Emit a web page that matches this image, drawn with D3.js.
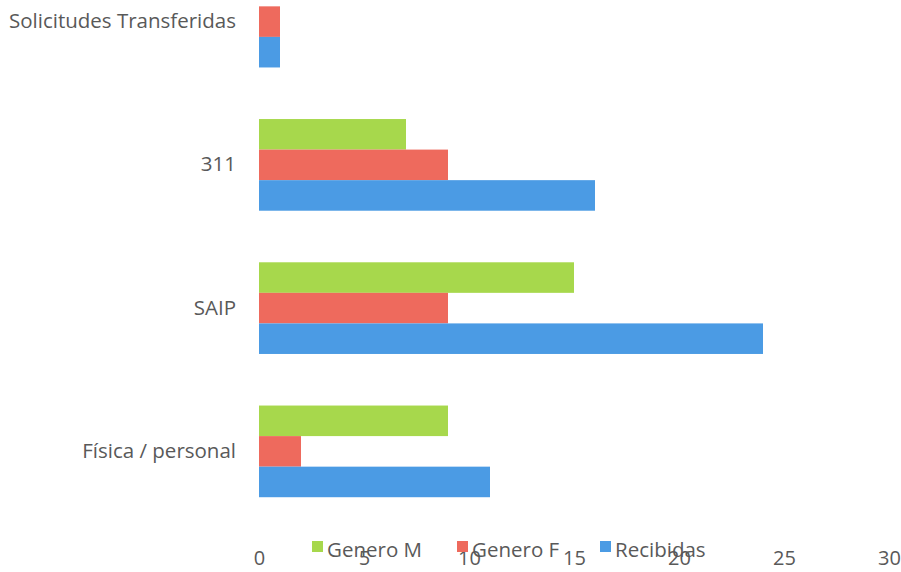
<!DOCTYPE html>
<html>
<head>
<meta charset="utf-8">
<script src="https://cdn.jsdelivr.net/npm/d3@7"></script>
<style>
  body { margin: 0; background: #fff; }
  svg text { font-family: "Open Sans", Lato, sans-serif; fill: #595959; }
</style>
</head>
<body>
<svg id="chart"></svg>
<script>
var categories = ["Solicitudes Transferidas", "311", "SAIP", "Física / personal"];
var seriesNames = ["Genero M", "Genero F", "Recibidas"];
var generoM = [0, 7, 15, 9];
var generoF = [1, 9, 9, 2];
var recibidas = [1, 16, 24, 11];
var xTicks = [0, 5, 10, 15, 20, 25, 30];
var colors = ["#a7d84c", "#ee6a5d", "#4b9be4"];

var svgWidth = 901;
var svgHeight = 572;

var svg = d3.select("#chart")
    .attr("width", svgWidth)
    .attr("height", svgHeight);

// top of the plot is cut off in the scan, so the range starts above 0
var x = d3.scaleLinear().domain([0, 30]).range([259, 889]);
var y = d3.scaleBand().domain(categories).range([-50, 523])
    .paddingInner(0.36).paddingOuter(0.18);
var ySub = d3.scaleBand().domain(seriesNames).range([0, y.bandwidth()]);

var allSeries = [generoM, generoF, recibidas];

seriesNames.forEach(function (name, s) {
    svg.append("g")
        .selectAll("rect")
        .data(allSeries[s])
        .enter()
        .append("rect")
        .attr("x", x(0))
        .attr("y", function (d, i) { return y(categories[i]) + ySub(name); })
        .attr("width", function (d) { return x(d) - x(0); })
        .attr("height", ySub.bandwidth())
        .attr("fill", colors[s]);
});

// category labels
var yAxis = svg.append("g")
    .attr("transform", "translate(" + (x(0) - 3) + ",0)")
    .call(d3.axisLeft(y).tickSize(0).tickPadding(20));
yAxis.select(".domain").remove();
yAxis.selectAll("text").style("font-size", "20.5px").attr("fill", "#595959");

// value axis labels
var xAxis = svg.append("g")
    .attr("transform", "translate(0,547)")
    .call(d3.axisBottom(x).tickValues(xTicks).tickSize(0).tickPadding(4));
xAxis.select(".domain").remove();
xAxis.selectAll("text").style("font-size", "20px").attr("fill", "#595959");

// legend
var legendX = [312, 457, 600];
var legend = svg.append("g");
seriesNames.forEach(function (name, s) {
    legend.append("rect")
        .attr("x", legendX[s])
        .attr("y", 541)
        .attr("width", 11)
        .attr("height", 11)
        .attr("fill", colors[s]);
    legend.append("text")
        .attr("x", legendX[s] + 15)
        .attr("y", 557)
        .style("font-size", "20.5px")
        .text(name);
});
</script>
</body>
</html>
